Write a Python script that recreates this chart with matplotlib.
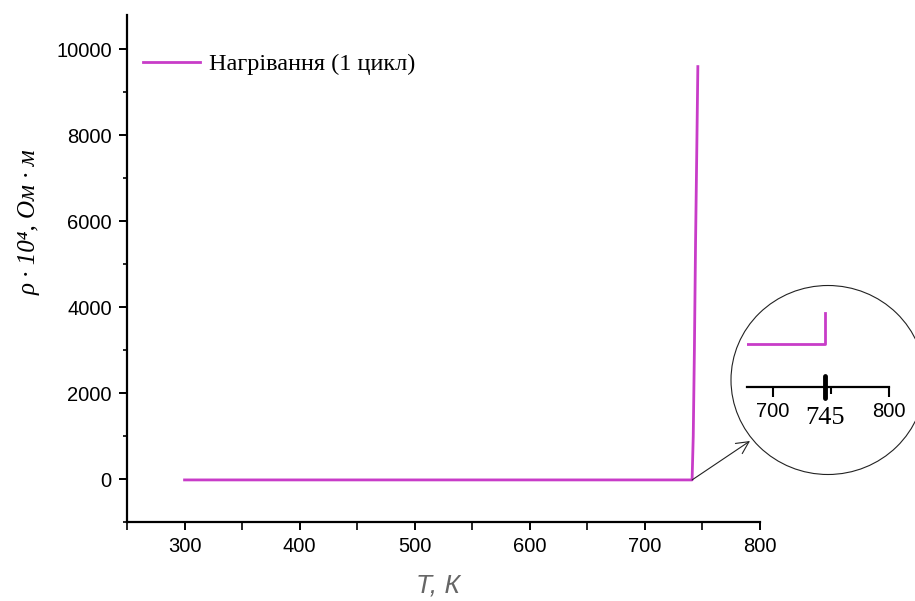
import matplotlib.pyplot as plt
from matplotlib.patches import Ellipse
from matplotlib.ticker import MultipleLocator

# heating curve, cycle 1
temp_K = [300, 500, 741, 742, 743, 744, 745, 746]
rho = [-20, -20, -20, 1000, 3000, 5500, 7500, 9600]
series_label = "Нагрівання (1 цикл)"

# zoomed view shown in the circle
inset_T = [678, 745, 745]
inset_rho = [0, 0, 1]
inset_ticks = [700, 750, 800]
inset_tick_labels = ["700", "", "800"]
transition_T = 745

x_ticks = [300, 400, 500, 600, 700, 800]
y_ticks = [0, 2000, 4000, 6000, 8000, 10000]

MAGENTA = "#c83cc8"


def main():
    fig = plt.figure(figsize=(9.15, 6.01), dpi=100)
    ax = fig.add_axes([0.1388, 0.1314, 0.6918, 0.8436])

    ax.plot(temp_K, rho, color=MAGENTA, lw=2, label=series_label)
    ax.set_xlim(250, 800)
    ax.set_ylim(-1000, 10800)
    ax.set_xticks(x_ticks)
    ax.set_yticks(y_ticks)
    ax.xaxis.set_minor_locator(MultipleLocator(50))
    ax.yaxis.set_minor_locator(MultipleLocator(1000))
    ax.spines[["top", "right"]].set_visible(False)
    ax.spines[["left", "bottom"]].set_linewidth(1.6)
    ax.tick_params(which="major", length=6, width=1.4, labelsize=14.5, pad=5)
    ax.tick_params(axis="x", which="minor", length=6, width=1.2)
    ax.tick_params(axis="y", which="minor", length=3, width=1.2)
    for lab in ax.get_xticklabels() + ax.get_yticklabels():
        lab.set_family("Liberation Sans")

    fig.text(438 / 915, 1 - 585 / 601, "T, К", family="Liberation Sans",
             style="italic", fontsize=19, color="#666666",
             ha="center", va="center")
    fig.text(30 / 915, 1 - 222 / 601, "ρ · 10⁴, Ом · м",
             family="Liberation Serif", style="italic", fontsize=18,
             rotation=90, ha="center", va="center")

    ax.legend(loc="upper left", frameon=False, handlelength=2.35,
              handletextpad=0.37, borderpad=0, borderaxespad=0,
              prop={"family": "Liberation Serif", "size": 17.5},
              bbox_to_anchor=(0.0253, 0.925))

    # zoom circle
    fig.add_artist(Ellipse((828 / 915, 1 - 380 / 601), 194 / 915, 189 / 601,
                           transform=fig.transFigure, fill=False,
                           lw=0.8, edgecolor="#222222"))
    ax.annotate("", xy=(750, 601 - 441), xycoords="figure pixels",
                xytext=(741, -20), textcoords="data",
                arrowprops=dict(arrowstyle="->", lw=0.8, color="#222222",
                                mutation_scale=22, shrinkA=0, shrinkB=0),
                annotation_clip=False)

    ins = fig.add_axes([747 / 915, 1 - 387 / 601, 142 / 915, 82 / 601])
    ins.patch.set_alpha(0)
    ins.plot(inset_T, inset_rho, color=MAGENTA, lw=2)
    ins.set_xlim(678, 800)
    ins.set_ylim(-1.387, 1.258)
    ins.spines[["top", "right", "left"]].set_visible(False)
    ins.spines["bottom"].set_linewidth(1.6)
    ins.set_yticks([])
    ins.set_xticks(inset_ticks)
    ins.set_xticklabels(inset_tick_labels, family="Liberation Sans", fontsize=14.5)
    ins.tick_params(length=7, width=1.5, pad=4)
    ins.xaxis.get_major_ticks()[1].tick1line.set_markersize(5)
    ins.plot([transition_T, transition_T], [-1.03, -1.74], color="black",
             lw=3.5, solid_capstyle="round", clip_on=False)
    ins.text(transition_T, -2.38, str(transition_T), ha="center", va="center",
             family="Liberation Serif", fontsize=19)

    fig.savefig("out.png", dpi=100)


if __name__ == "__main__":
    main()
